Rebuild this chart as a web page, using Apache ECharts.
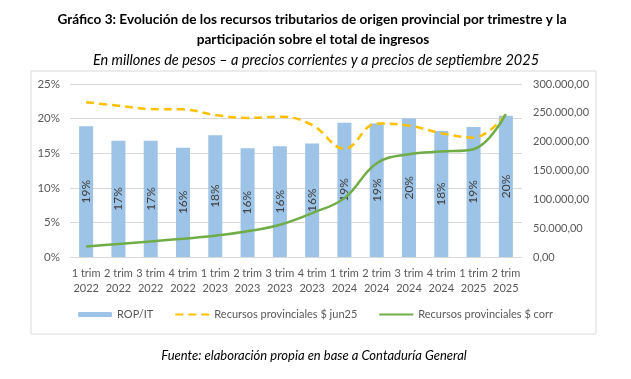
<!DOCTYPE html>
<html>
<head>
<meta charset="utf-8">
<script src="https://cdn.jsdelivr.net/npm/echarts@6/dist/echarts.min.js"></script>
<style>
html,body{margin:0;padding:0;background:#fff;}
#chart{width:631px;height:379px;}
</style>
</head>
<body>
<div id="chart"></div>
<script>
var categories = ['1 trim\n2022','2 trim\n2022','3 trim\n2022','4 trim\n2022','1 trim\n2023','2 trim\n2023','3 trim\n2023','4 trim\n2023','1 trim\n2024','2 trim\n2024','3 trim\n2024','4 trim\n2024','1 trim\n2025','2 trim\n2025'];
var ropIt = [18.9, 16.8, 16.8, 15.8, 17.6, 15.7, 16.0, 16.4, 19.4, 19.3, 20.0, 18.2, 18.8, 20.4];
var recursosJun25 = [268300, 262400, 256700, 256000, 246300, 241100, 243300, 229000, 187500, 231500, 227800, 214700, 207000, 247600];
var recursosCorr = [18300, 22500, 27000, 31700, 36900, 44500, 55900, 76200, 102100, 162700, 178300, 182800, 187000, 247600];
var leftTicks = {min: 0, max: 25, interval: 5};
var rightTicks = {min: 0, max: 300000, interval: 50000};

function fmtEs(v) {
  var s = Math.round(v).toString().replace(/\B(?=(\d{3})+(?!\d))/g, '.');
  return s + ',00';
}

var FONT = 'Lato, "Liberation Sans", sans-serif';
var chart = echarts.init(document.getElementById('chart'), null, {renderer: 'canvas'});
var option = {
  animation: false,
  backgroundColor: '#fff',
  graphic: [
    {type: 'rect', shape: {x: 31, y: 71, width: 565, height: 263}, style: {fill: 'none', stroke: '#D9D9D9', lineWidth: 1}, z: -1},
    {type: 'text', x: 312, y: 20, style: {text: 'Gráfico 3: Evolución de los recursos tributarios de origen provincial por trimestre y la', font: 'bold 13.6px ' + FONT, fill: '#000', textAlign: 'center', textVerticalAlign: 'middle'}},
    {type: 'text', x: 313, y: 40, style: {text: 'participación sobre el total de ingresos', font: 'bold 13.6px ' + FONT, fill: '#000', textAlign: 'center', textVerticalAlign: 'middle'}},
    {type: 'text', x: 316, y: 60, style: {text: 'En millones de pesos – a precios corrientes y a precios de septiembre 2025', font: 'italic 14.5px ' + FONT, fill: '#000', textAlign: 'center', textVerticalAlign: 'middle'}},
    {type: 'text', x: 314, y: 356, style: {text: 'Fuente: elaboración propia en base a Contaduría General', font: 'italic 13px ' + FONT, fill: '#000', textAlign: 'center', textVerticalAlign: 'middle'}}
  ],
  grid: {left: 70, right: 109, top: 84, bottom: 122, containLabel: false},
  legend: {
    bottom: 54, left: 'center',
    itemWidth: 34, itemHeight: 5, itemGap: 21,
    textStyle: {fontFamily: FONT, fontSize: 11, color: '#595959'},
    data: [
      {name: 'ROP/IT'},
      {name: 'Recursos provinciales $ jun25', itemStyle: {opacity: 0}},
      {name: 'Recursos provinciales $ corr', itemStyle: {opacity: 0}}
    ]
  },
  xAxis: {
    type: 'category',
    data: categories,
    axisLine: {show: true, lineStyle: {color: '#D9D9D9'}},
    axisTick: {show: false},
    axisLabel: {fontFamily: FONT, fontSize: 11, color: '#595959', lineHeight: 15, margin: 9, interval: 0}
  },
  yAxis: [
    {
      type: 'value', min: leftTicks.min, max: leftTicks.max, interval: leftTicks.interval,
      axisLine: {show: false}, axisTick: {show: false},
      splitLine: {lineStyle: {color: '#D9D9D9'}},
      axisLabel: {formatter: '{value}%', fontFamily: FONT, fontSize: 11.5, color: '#595959', margin: 10}
    },
    {
      type: 'value', min: rightTicks.min, max: rightTicks.max, interval: rightTicks.interval,
      axisLine: {show: false}, axisTick: {show: false},
      splitLine: {show: false},
      axisLabel: {formatter: fmtEs, fontFamily: FONT, fontSize: 11, color: '#595959', margin: 11}
    }
  ],
  series: [
    {
      name: 'ROP/IT', type: 'bar', yAxisIndex: 0, data: ropIt, barWidth: 14,
      itemStyle: {color: '#9DC3E6'},
      label: {show: true, position: 'inside', rotate: 90, formatter: function (p) { return Math.round(p.value) + '%'; },
        fontFamily: FONT, fontSize: 12, color: '#404040'}
    },
    {
      name: 'Recursos provinciales $ jun25', type: 'line', yAxisIndex: 1, data: recursosJun25,
      smooth: 0.4, symbol: 'none',
      lineStyle: {color: '#FFC000', width: 2.5, type: [8, 5]},
      itemStyle: {color: '#FFC000'}
    },
    {
      name: 'Recursos provinciales $ corr', type: 'line', yAxisIndex: 1, data: recursosCorr,
      smooth: 0.4, symbol: 'none',
      lineStyle: {color: '#70AD47', width: 2.5},
      itemStyle: {color: '#70AD47'}
    }
  ]
};
chart.setOption(option);
</script>
</body>
</html>
